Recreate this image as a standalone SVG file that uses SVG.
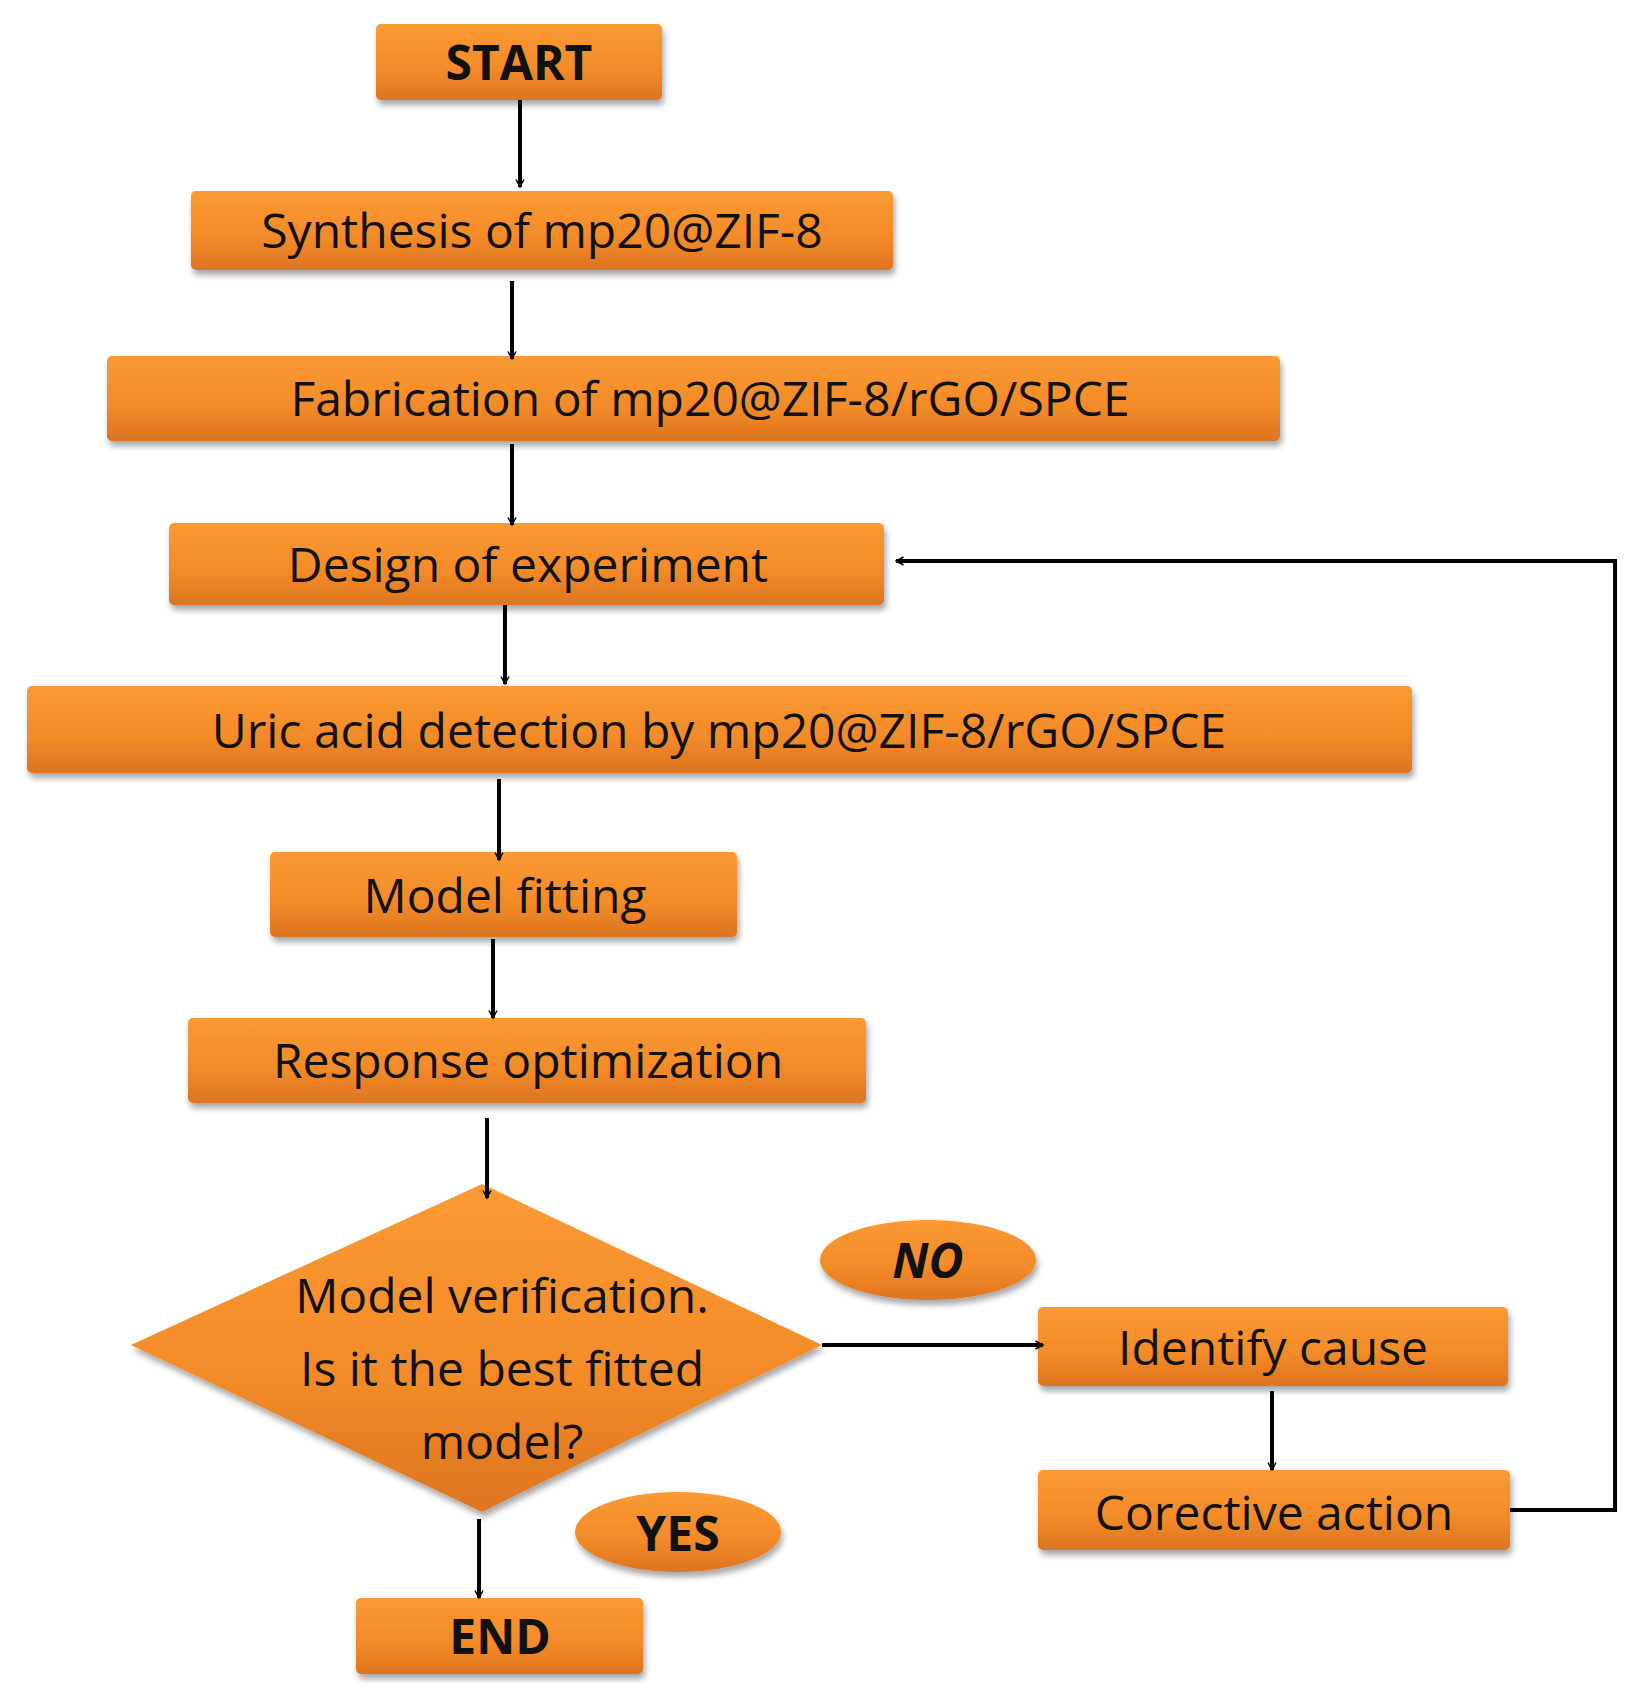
<svg xmlns="http://www.w3.org/2000/svg" width="1634" height="1697" viewBox="0 0 1634 1697">
<defs>
<linearGradient id="g" x1="0" y1="0" x2="0" y2="1"><stop offset="0" stop-color="#fb9a33"/><stop offset="0.6" stop-color="#f28a28"/><stop offset="1" stop-color="#dd7420"/></linearGradient>
<filter id="sh" x="-10%" y="-10%" width="120%" height="130%"><feDropShadow dx="2" dy="5" stdDeviation="3" flood-color="#000" flood-opacity="0.35"/></filter>
<marker id="ah" viewBox="0 0 20 20" refX="17" refY="10" markerWidth="10" markerHeight="10" markerUnits="userSpaceOnUse" orient="auto"><path d="M2,2 L17,10 L2,18" fill="none" stroke="#000" stroke-width="3"/></marker>
</defs>
<style>
.b{fill:url(#g);filter:url(#sh)}
.t{font-family:"Open Sans","Liberation Sans",sans-serif;font-size:48px;fill:#111;text-anchor:middle}
.k{font-weight:bold}
.c{stroke:#000;stroke-width:4;fill:none;marker-end:url(#ah)}
</style>
<rect width="1634" height="1697" fill="#fff"/>
<g id="start"><rect class="b" x="376" y="24" width="286" height="76" rx="5"/><text class="t k" x="519" y="80">START</text></g>
<g id="synth"><rect class="b" x="191" y="191" width="702" height="79" rx="5"/><text class="t" x="542" y="248">Synthesis of mp20@ZIF-8</text></g>
<g id="fab"><rect class="b" x="107" y="356" width="1173" height="85" rx="5"/><text class="t" x="710" y="416">Fabrication of mp20@ZIF-8/rGO/SPCE</text></g>
<g id="design"><rect class="b" x="169" y="523" width="715" height="82" rx="5"/><text class="t" x="528" y="582">Design of experiment</text></g>
<g id="uric"><rect class="b" x="27" y="686" width="1385" height="87" rx="5"/><text class="t" x="719" y="748">Uric acid detection by mp20@ZIF-8/rGO/SPCE</text></g>
<g id="fit"><rect class="b" x="270" y="852" width="467" height="85" rx="5"/><text class="t" x="505" y="913">Model fitting</text></g>
<g id="resp"><rect class="b" x="188" y="1018" width="678" height="85" rx="5"/><text class="t" x="528" y="1078">Response optimization</text></g>
<g id="verify"><polygon class="b" points="482,1184 822,1345 482,1512 131,1345"/><text class="t" x="502" y="1313">Model verification.</text><text class="t" x="502" y="1386">Is it the best fitted</text><text class="t" x="502" y="1459">model?</text></g>
<g id="no"><ellipse class="b" cx="928" cy="1260" rx="108" ry="40"/><text class="t k" x="928" y="1278" font-style="italic">NO</text></g>
<g id="identify"><rect class="b" x="1038" y="1307" width="470" height="79" rx="5"/><text class="t" x="1273" y="1365">Identify cause</text></g>
<g id="corr"><rect class="b" x="1038" y="1470" width="472" height="80" rx="5"/><text class="t" x="1274" y="1530">Corective action</text></g>
<g id="yes"><ellipse class="b" cx="678" cy="1532" rx="103" ry="40"/><text class="t k" x="678" y="1551">YES</text></g>
<g id="end"><rect class="b" x="356" y="1598" width="287" height="76" rx="5"/><text class="t k" x="500" y="1654">END</text></g>
<g id="connectors">
<line class="c" x1="520" y1="100" x2="520" y2="187"/>
<line class="c" x1="512" y1="281" x2="512" y2="359"/>
<line class="c" x1="512" y1="444" x2="512" y2="525"/>
<line class="c" x1="505" y1="605" x2="505" y2="684"/>
<line class="c" x1="499" y1="779" x2="499" y2="860"/>
<line class="c" x1="493" y1="939" x2="493" y2="1018"/>
<line class="c" x1="487" y1="1118" x2="487" y2="1198"/>
<line class="c" x1="822" y1="1345" x2="1043" y2="1345"/>
<line class="c" x1="1272" y1="1391" x2="1272" y2="1470"/>
<polyline class="c" points="1510,1510 1615,1510 1615,561 896,561"/>
<line class="c" x1="479" y1="1519" x2="479" y2="1598"/>
</g>
</svg>
